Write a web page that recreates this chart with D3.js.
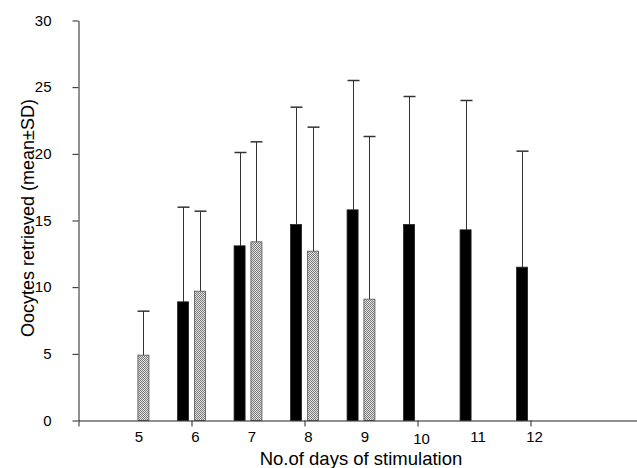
<!DOCTYPE html>
<html>
<head>
<meta charset="utf-8">
<script src="https://cdn.jsdelivr.net/npm/d3@7/dist/d3.min.js"></script>
<style>
body { margin: 0; background: #fff; }
svg { display: block; font-family: "Liberation Sans", Arial, sans-serif; }
</style>
</head>
<body>
<svg width="637" height="468"></svg>
<script>
// days of stimulation, two groups of patients
var days = [5, 6, 7, 8, 9, 10, 11, 12];
var blackMean = [null, 8.9, 13.1, 14.7, 15.8, 14.7, 14.3, 11.5];
var blackSD   = [null, 7.1, 7.0, 8.8, 9.7, 9.6, 9.7, 8.7];
var greyMean  = [4.9, 9.7, 13.4, 12.7, 9.1, null, null, null];
var greySD    = [3.3, 6.0, 7.5, 9.3, 12.2, null, null, null];
var yTicks = [0, 5, 10, 15, 20, 25, 30];
var xTicks = [4, 6, 8, 10, 12];

var svg = d3.select("svg");

var x = d3.scaleLinear().domain([4, 14]).range([78.5, 643.5]);
var y = d3.scaleLinear().domain([0, 30]).range([420.5, 20.5]);

var unit = x(1) - x(0),
	barW = unit * 0.195,
	off = unit * 0.149,
	capW = 12;

// stipple fill for the grey bars
var pat = svg.append("defs").append("pattern")
	.attr("id", "dots")
	.attr("width", 2).attr("height", 2)
	.attr("patternUnits", "userSpaceOnUse");
pat.append("rect").attr("width", 2).attr("height", 2).attr("fill", "#e4e4e4");
pat.append("rect").attr("width", 1).attr("height", 1).attr("fill", "#7a7a7a");
pat.append("rect").attr("x", 1).attr("y", 1).attr("width", 1).attr("height", 1).attr("fill", "#7a7a7a");

var rows = [];
days.forEach(function(d, i) {
	if (blackMean[i] != null) rows.push({day: d, mean: blackMean[i], sd: blackSD[i], dx: -off, kind: "black"});
	if (greyMean[i] != null) rows.push({day: d, mean: greyMean[i], sd: greySD[i], dx: off, kind: "grey"});
});

// error bars (drawn first, the bars cover the bottom part)
var err = svg.append("g")
	.attr("stroke", "#333")
	.attr("stroke-width", 1);

err.selectAll("line.whisk")
	.data(rows)
	.enter().append("line")
	.attr("class", "whisk")
	.attr("x1", function(d) { return Math.round(x(d.day) + d.dx) + 0.5; })
	.attr("x2", function(d) { return Math.round(x(d.day) + d.dx) + 0.5; })
	.attr("y1", function(d) { return y(d.mean); })
	.attr("y2", function(d) { return y(d.mean + d.sd); });

err.selectAll("line.cap")
	.data(rows)
	.enter().append("line")
	.attr("class", "cap")
	.attr("stroke-width", 1.5)
	.attr("x1", function(d) { return Math.round(x(d.day) + d.dx) + 0.5 - capW / 2; })
	.attr("x2", function(d) { return Math.round(x(d.day) + d.dx) + 0.5 + capW / 2; })
	.attr("y1", function(d) { return y(d.mean + d.sd); })
	.attr("y2", function(d) { return y(d.mean + d.sd); });

svg.append("g")
	.selectAll("rect")
	.data(rows)
	.enter().append("rect")
	.attr("x", function(d) { return x(d.day) + d.dx - barW / 2; })
	.attr("y", function(d) { return y(d.mean); })
	.attr("width", barW)
	.attr("height", function(d) { return y(0) - y(d.mean); })
	.attr("fill", function(d) { return d.kind == "black" ? "#000" : "url(#dots)"; })
	.attr("stroke", function(d) { return d.kind == "black" ? "#222" : "#555"; })
	.attr("stroke-width", 0.8);

// axes
var yAxis = svg.append("g")
	.attr("transform", "translate(" + x(4) + ",0)")
	.call(d3.axisLeft(y).tickValues(yTicks).tickSize(6).tickSizeOuter(0).tickPadding(21));

var xAxis = svg.append("g")
	.attr("transform", "translate(0," + y(0) + ")")
	.call(d3.axisBottom(x).tickValues(xTicks).tickSize(6).tickSizeOuter(0).tickFormat(""));

[yAxis, xAxis].forEach(function(a) {
	a.selectAll("path, line").attr("stroke", "#222");
	a.selectAll("text").attr("fill", "#000").style("font-size", "15px").style("font-family", "Liberation Sans, Arial, sans-serif");
});

// day labels under each pair of bars
svg.append("g")
	.selectAll("text")
	.data(days)
	.enter().append("text")
	.attr("x", function(d) { return x(d) + 4; })
	.attr("y", function(d) { return d == 10 ? 444 : 442; })
	.attr("text-anchor", "middle")
	.style("font-size", "15px")
	.text(function(d) { return d; });

svg.append("text")
	.attr("x", 361)
	.attr("y", 465)
	.attr("text-anchor", "middle")
	.style("font-size", "18.5px")
	.text("No.of days of stimulation");

svg.append("text")
	.attr("transform", "translate(34,218) rotate(-90)")
	.attr("text-anchor", "middle")
	.style("font-size", "18px")
	.text("Oocytes retrieved (mean±SD)");
</script>
</body>
</html>
